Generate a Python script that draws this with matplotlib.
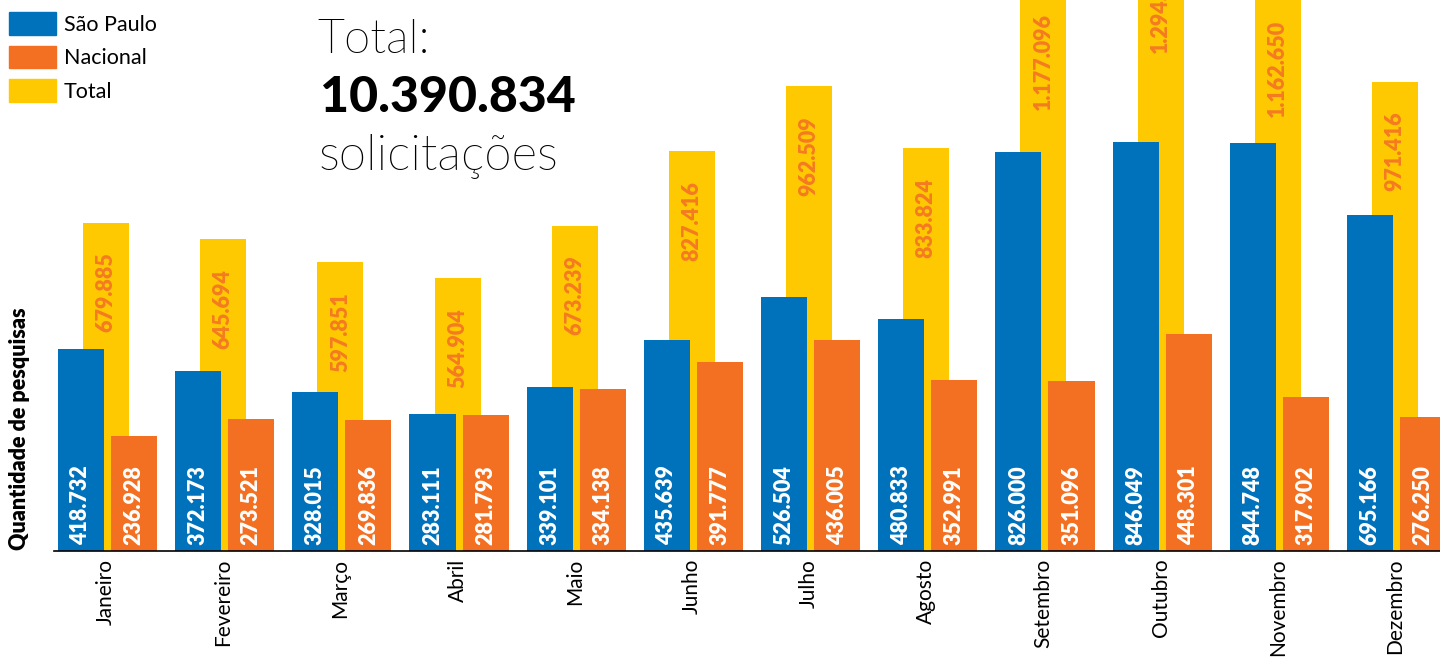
import matplotlib.pyplot as plt
from matplotlib import font_manager as fm
from matplotlib.patches import Patch

plt.rcParams['font.family'] = ['Lato', 'DejaVu Sans']

meses = ["Janeiro", "Fevereiro", "Março", "Abril", "Maio", "Junho",
         "Julho", "Agosto", "Setembro", "Outubro", "Novembro", "Dezembro"]
sao_paulo = [418732, 372173, 328015, 283111, 339101, 435639,
             526504, 480833, 826000, 846049, 844748, 695166]
nacional = [236928, 273521, 269836, 281793, 334138, 391777,
            436005, 352991, 351096, 448301, 317902, 276250]
total = [679885, 645694, 597851, 564904, 673239, 827416,
         962509, 833824, 1177096, 1294350, 1162650, 971416]
total_geral = 10390834

AZUL = "#0071bb"
LARANJA = "#f37022"
AMARELO = "#ffc901"


def fmt(v):
    return f"{v:,}".replace(",", ".")


def lato_fina(tamanho):
    # Lato ExtraLight para o título; cai para Light se não houver
    for nome in ("Lato-ExtraLight.ttf", "Lato-Light.ttf"):
        for f in fm.fontManager.ttflist:
            if f.fname.endswith("/" + nome):
                return fm.FontProperties(fname=f.fname, size=tamanho)
    return fm.FontProperties(family="Lato", weight=300, size=tamanho)


fig = plt.figure(figsize=(14.4, 6.57), dpi=100)
ax = fig.add_axes([0, 106.5 / 657, 1, 550.5 / 657])

x = list(range(len(meses)))
w = 0.393
x_sp = [i - 0.214 for i in x]
x_nac = [i + 0.239 for i in x]

ax.bar(x, total, width=w, color=AMARELO, zorder=1)
ax.bar(x_sp, sao_paulo, width=w, color=AZUL, zorder=2)
ax.bar(x_nac, nacional, width=w, color=LARANJA, zorder=2)

# rótulos dentro das barras
for xi, v in zip(x_sp, sao_paulo):
    ax.annotate(fmt(v), (xi, 0), xytext=(0, 4), textcoords="offset points",
                rotation=90, ha="center", va="bottom", color="white",
                fontsize=15.5, fontweight=800, zorder=3)
for xi, v in zip(x_nac, nacional):
    ax.annotate(fmt(v), (xi, 0), xytext=(0, 4), textcoords="offset points",
                rotation=90, ha="center", va="bottom", color="white",
                fontsize=15.5, fontweight=800, zorder=3)
for xi, v in zip(x, total):
    ax.annotate(fmt(v), (xi, v), xytext=(0, -21.5), textcoords="offset points",
                rotation=90, ha="center", va="top", color="#f47b20",
                fontsize=15.5, fontweight=800, zorder=3, annotation_clip=False)

ax.set_xlim(-0.905, 11.384)
ax.set_ylim(0, 1141200)
ax.set_xticks(x)
ax.set_xticklabels(meses, rotation=90, fontsize=15)
ax.tick_params(axis="x", length=0, pad=6)
ax.set_yticks([])
for lado in ["top", "right", "left"]:
    ax.spines[lado].set_visible(False)
ax.spines["bottom"].set_color("black")
ax.spines["bottom"].set_linewidth(1.2)
ax.spines["bottom"].set_bounds(-0.44, 11.384)
ax.spines["bottom"].set_zorder(4)
ax.patch.set_alpha(0)

fig.text(20 / 1440, 1 - 550 / 657, "Quantidade de pesquisas", rotation=90,
         ha="center", va="bottom", fontsize=15.5, fontweight="heavy")

legenda = [Patch(color=AZUL, label="São Paulo"),
           Patch(color=LARANJA, label="Nacional"),
           Patch(color=AMARELO, label="Total")]
fig.legend(handles=legenda, loc="upper left",
           bbox_to_anchor=(9 / 1440, 1 - 12 / 657), frameon=False,
           fontsize=15.5, handlelength=2.2, handleheight=1.25,
           handletextpad=0.35, labelspacing=0.5, borderpad=0,
           borderaxespad=0)

fig.text(317 / 1440, 1 - 53 / 657, "Total:", fontproperties=lato_fina(34),
         va="baseline", ha="left")
fig.text(320 / 1440, 1 - 112 / 657, fmt(total_geral), fontsize=36,
         fontweight=900, va="baseline", ha="left")
fig.text(319 / 1440, 1 - 170 / 657, "solicitações",
         fontproperties=lato_fina(35.5), va="baseline", ha="left")

fig.savefig("out.png", dpi=100)
